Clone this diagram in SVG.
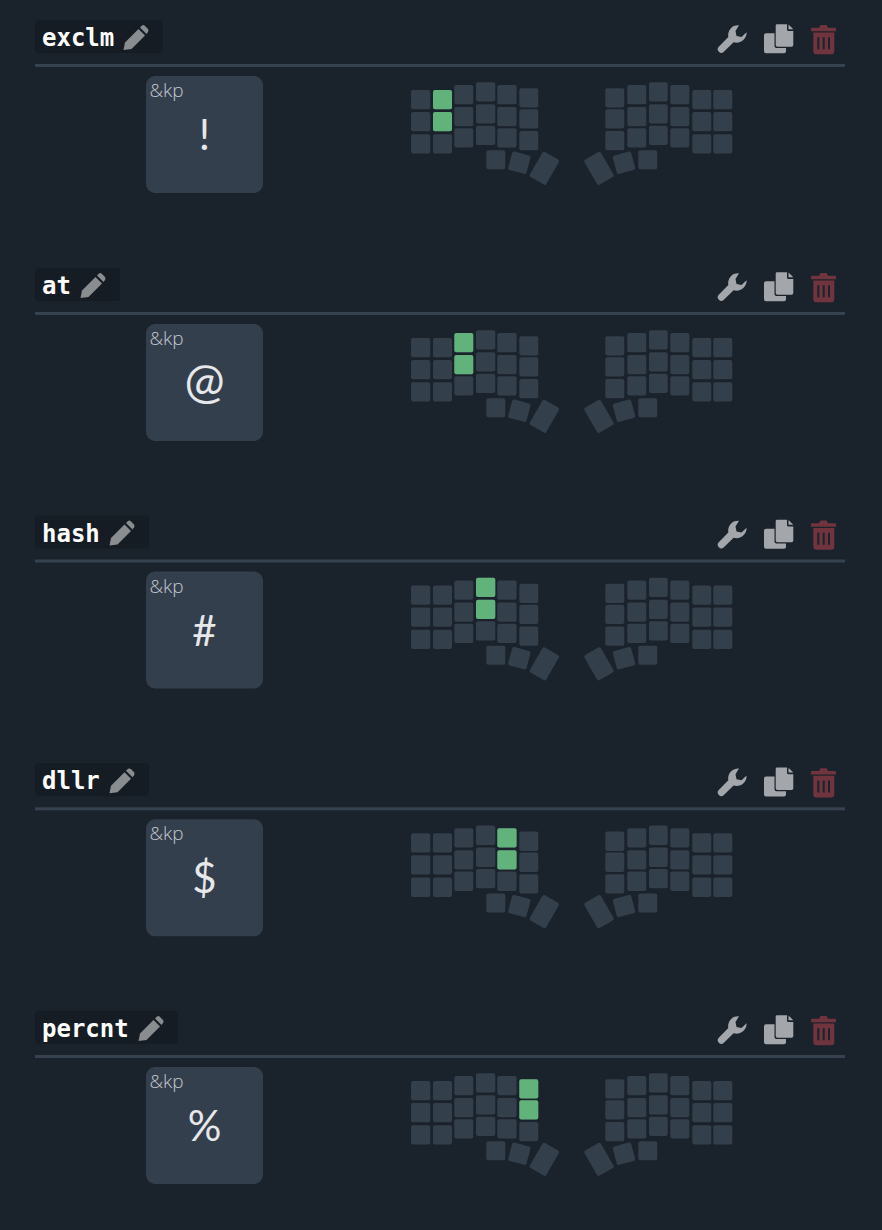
<svg xmlns="http://www.w3.org/2000/svg" width="882" height="1230" viewBox="0 0 882 1230">
<style>
.bg{fill:#1a222b}
.chip{fill:#151c24}
.rule{fill:#36424f}
.card{fill:#343f4d}
.k{fill:#343f4c}
.on{fill:#62b27c}
.name{font:bold 24px "DejaVu Sans Mono",monospace;fill:#fff}
.beh{font:300 19px "Open Sans",Lato,sans-serif;fill:#c4c8cc}
.sym{font:400 42px Lato,"Open Sans",sans-serif;fill:#e6e8ea;text-anchor:middle}
.pen{fill:#8a8d90}
.ico{fill:#a3a7ac}
.del{fill:#70343f}
</style>
<defs>
<g id="pencil">
<path d="M.5 25 L2 17.5 L15.5 4 L22 10.5 L8.500 24 Z"/>
<path d="M17 2.500 L19 .5 Q20.500 -.5 22 1 L25 4 Q26 5.500 25 7 L23.500 9 Z"/>
</g>
<g id="tools">
<path class="ico" d="M739 25.200A10 10 0 0 0 728.300 37L718.500 47A3.600 3.600 0 0 0 723.600 52L733.600 42.200A10 10 0 0 0 746.600 32.200L741.500 37L736.500 36L735.500 31Z"/>
<path class="ico" d="M766 33.300H774.500V46Q774.500 48 776.500 48H786V51.300Q786 53.300 784 53.300H766Q764 53.300 764 51.300V35.300Q764 33.300 766 33.300Z"/>
<path class="ico" d="M777 24.300H787V29.500Q787 31 788.500 31H793.300V45Q793.300 46.700 791.600 46.700H777.400Q775.700 46.700 775.700 45V25.600Q775.700 24.300 777 24.300ZM788.500 24.500L793.300 29.300H788.500Z"/>
<path class="del" d="M819 27.800L820.500 25H826.500L828 27.800H835Q836 27.800 836 28.800V31.200H811V28.800Q811 27.800 812 27.800ZM813.300 32.500H834.300V51.300Q834.300 54.300 831.300 54.300H816.300Q813.300 54.300 813.300 51.300ZM817.300 37.300V49.300H819.300V37.300ZM822.700 37.300V49.300H824.700V37.300ZM828 37.300V49.300H830V37.300Z" fill-rule="evenodd"/>
</g>
<g id="keys">
<rect class="k" x="411" y="90" width="19.300" height="19.300" rx="2"/><rect class="k" x="411" y="112" width="19.300" height="19.300" rx="2"/><rect class="k" x="411" y="134.300" width="19.300" height="19.300" rx="2"/>
<rect class="k" x="433" y="90" width="19" height="19.300" rx="2"/><rect class="k" x="433" y="112" width="19" height="19.300" rx="2"/><rect class="k" x="433" y="134.300" width="19" height="19.300" rx="2"/>
<rect class="k" x="454.300" y="85" width="19" height="19.300" rx="2"/><rect class="k" x="454.300" y="107" width="19" height="19.300" rx="2"/><rect class="k" x="454.300" y="128.300" width="19" height="19.300" rx="2"/>
<rect class="k" x="476" y="82.300" width="19.300" height="19.300" rx="2"/><rect class="k" x="476" y="104.300" width="19.300" height="19.300" rx="2"/><rect class="k" x="476" y="125.700" width="19.300" height="19.300" rx="2"/>
<rect class="k" x="497.300" y="85" width="19.300" height="19.300" rx="2"/><rect class="k" x="497.300" y="107" width="19.300" height="19.300" rx="2"/><rect class="k" x="497.300" y="128.300" width="19.300" height="19.300" rx="2"/>
<rect class="k" x="519.300" y="88.300" width="19" height="19.300" rx="2"/><rect class="k" x="519.300" y="109.300" width="19" height="19.300" rx="2"/><rect class="k" x="519.300" y="131" width="19" height="19.300" rx="2"/>
<rect class="k" x="486.300" y="150.300" width="19" height="19" rx="2"/>
<rect class="k" x="509.800" y="153.200" width="19" height="19" rx="2" transform="rotate(15 519.300 162.700)"/>
<rect class="k" x="534.800" y="153.800" width="19" height="29" rx="2" transform="rotate(30 544.300 168.300)"/>
<rect class="k" x="605.300" y="88.300" width="19" height="19.300" rx="2"/><rect class="k" x="605.300" y="109.300" width="19" height="19.300" rx="2"/><rect class="k" x="605.300" y="131" width="19" height="19.300" rx="2"/>
<rect class="k" x="627.300" y="85" width="19" height="19.300" rx="2"/><rect class="k" x="627.300" y="107" width="19" height="19.300" rx="2"/><rect class="k" x="627.300" y="128.300" width="19" height="19.300" rx="2"/>
<rect class="k" x="649" y="82.300" width="18.700" height="19.300" rx="2"/><rect class="k" x="649" y="104.300" width="18.700" height="19.300" rx="2"/><rect class="k" x="649" y="125.700" width="18.700" height="19.300" rx="2"/>
<rect class="k" x="670.300" y="85" width="19" height="19.300" rx="2"/><rect class="k" x="670.300" y="107" width="19" height="19.300" rx="2"/><rect class="k" x="670.300" y="128.300" width="19" height="19.300" rx="2"/>
<rect class="k" x="692.300" y="90" width="19" height="19.300" rx="2"/><rect class="k" x="692.300" y="112" width="19" height="19.300" rx="2"/><rect class="k" x="692.300" y="134.300" width="19" height="19.300" rx="2"/>
<rect class="k" x="713.300" y="90" width="19" height="19.300" rx="2"/><rect class="k" x="713.300" y="112" width="19" height="19.300" rx="2"/><rect class="k" x="713.300" y="134.300" width="19" height="19.300" rx="2"/>
<rect class="k" x="638.300" y="150.300" width="19" height="19" rx="2"/>
<rect class="k" x="614.500" y="153.200" width="19" height="19" rx="2" transform="rotate(-15 624 162.700)"/>
<rect class="k" x="589.500" y="153.800" width="19" height="29" rx="2" transform="rotate(-30 599 168.300)"/>
</g>
</defs>
<rect class="bg" width="882" height="1230"/>
<g id="combo-exclm">
<rect class="chip" x="35" y="20" width="128" height="33" rx="4"/>
<text class="name" x="42" y="46">exclm</text>
<use href="#pencil" class="pen" x="123" y="25"/>
<use href="#tools"/>
<rect class="rule" x="35" y="64" width="810" height="3"/>
<rect class="card" x="146" y="76" width="117" height="117" rx="9"/>
<text class="beh" x="149.500" y="97">&amp;kp</text>
<text class="sym" x="204.500" y="150">!</text>
<use href="#keys"/>
<rect class="on" x="433" y="90" width="19" height="19.300" rx="2"/>
<rect class="on" x="433" y="112" width="19" height="19.300" rx="2"/>
</g>
<g id="combo-at" transform="translate(0 248)">
<rect class="chip" x="35" y="20" width="85" height="33" rx="4"/>
<text class="name" x="42" y="46">at</text>
<use href="#pencil" class="pen" x="80" y="25"/>
<use href="#tools"/>
<rect class="rule" x="35" y="64" width="810" height="3"/>
<rect class="card" x="146" y="76" width="117" height="117" rx="9"/>
<text class="beh" x="149.500" y="97">&amp;kp</text>
<text class="sym" x="204.500" y="150" style="font-size:48px">@</text>
<use href="#keys"/>
<rect class="on" x="454.300" y="85" width="19" height="19.300" rx="2"/>
<rect class="on" x="454.300" y="107" width="19" height="19.300" rx="2"/>
</g>
<g id="combo-hash" transform="translate(0 495.500)">
<rect class="chip" x="35" y="20" width="114" height="33" rx="4"/>
<text class="name" x="42" y="46">hash</text>
<use href="#pencil" class="pen" x="109" y="25"/>
<use href="#tools"/>
<rect class="rule" x="35" y="64" width="810" height="3"/>
<rect class="card" x="146" y="76" width="117" height="117" rx="9"/>
<text class="beh" x="149.500" y="97">&amp;kp</text>
<text class="sym" x="204.500" y="150">#</text>
<use href="#keys"/>
<rect class="on" x="476" y="82.300" width="19.300" height="19.300" rx="2"/>
<rect class="on" x="476" y="104.300" width="19.300" height="19.300" rx="2"/>
</g>
<g id="combo-dllr" transform="translate(0 743.300)">
<rect class="chip" x="35" y="20" width="114" height="33" rx="4"/>
<text class="name" x="42" y="46">dllr</text>
<use href="#pencil" class="pen" x="109" y="25"/>
<use href="#tools"/>
<rect class="rule" x="35" y="64" width="810" height="3"/>
<rect class="card" x="146" y="76" width="117" height="117" rx="9"/>
<text class="beh" x="149.500" y="97">&amp;kp</text>
<text class="sym" x="204.500" y="150">$</text>
<use href="#keys"/>
<rect class="on" x="497.300" y="85" width="19.300" height="19.300" rx="2"/>
<rect class="on" x="497.300" y="107" width="19.300" height="19.300" rx="2"/>
</g>
<g id="combo-percnt" transform="translate(0 991)">
<rect class="chip" x="35" y="20" width="143" height="33" rx="4"/>
<text class="name" x="42" y="46">percnt</text>
<use href="#pencil" class="pen" x="138" y="25"/>
<use href="#tools"/>
<rect class="rule" x="35" y="64" width="810" height="3"/>
<rect class="card" x="146" y="76" width="117" height="117" rx="9"/>
<text class="beh" x="149.500" y="97">&amp;kp</text>
<text class="sym" x="204.500" y="150">%</text>
<use href="#keys"/>
<rect class="on" x="519.300" y="88.300" width="19" height="19.300" rx="2"/>
<rect class="on" x="519.300" y="109.300" width="19" height="19.300" rx="2"/>
</g>
</svg>
